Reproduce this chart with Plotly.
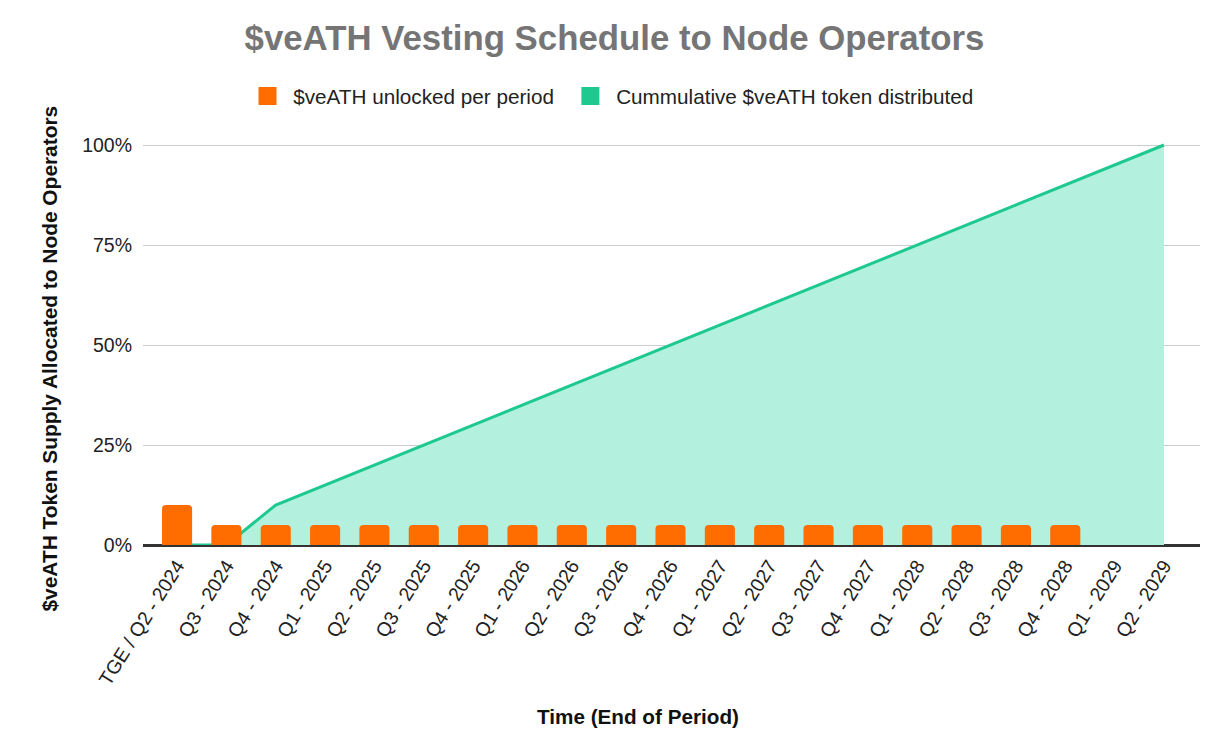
import plotly.graph_objects as go

categories = ["TGE / Q2 - 2024", "Q3 - 2024", "Q4 - 2024", "Q1 - 2025", "Q2 - 2025",
              "Q3 - 2025", "Q4 - 2025", "Q1 - 2026", "Q2 - 2026", "Q3 - 2026",
              "Q4 - 2026", "Q1 - 2027", "Q2 - 2027", "Q3 - 2027", "Q4 - 2027",
              "Q1 - 2028", "Q2 - 2028", "Q3 - 2028", "Q4 - 2028", "Q1 - 2029", "Q2 - 2029"]
unlocked = [0.10, 0.05, 0.05, 0.05, 0.05, 0.05, 0.05, 0.05, 0.05, 0.05,
            0.05, 0.05, 0.05, 0.05, 0.05, 0.05, 0.05, 0.05, 0.05, None, None]
cumulative = [0.00, 0.00, 0.10, 0.15, 0.20, 0.25, 0.30, 0.35, 0.40, 0.45,
              0.50, 0.55, 0.60, 0.65, 0.70, 0.75, 0.80, 0.85, 0.90, 0.95, 1.00]
y_ticks = [0, 0.25, 0.5, 0.75, 1.0]
y_tick_labels = ["0%", "25%", "50%", "75%", "100%"]
series_names = ["$veATH unlocked per period", "Cummulative $veATH token distributed"]

ORANGE = "#ff6d01"
GREEN = "#1ec98f"
GREEN_FILL = "#b3f0dd"
FONT = "Liberation Sans, Arial, sans-serif"
NB = "\u00a0"

W, H = 1223, 748           # page adds an 8px body margin
L, R, T, B = 135, 31, 132, 211
XR = [-0.69, 20.73]
YR = [0, 1.0125]

fig = go.Figure()
fig.add_trace(go.Scatter(x=categories, y=cumulative, mode="lines", fill="tozeroy",
                         line=dict(color=GREEN, width=3), fillcolor=GREEN_FILL,
                         showlegend=False, cliponaxis=False))
fig.add_trace(go.Bar(x=categories, y=unlocked, marker=dict(color=ORANGE, line=dict(width=0)),
                     width=0.61, showlegend=False, xaxis="x2", yaxis="y2"))
# legend entries
fig.add_trace(go.Scatter(x=[None], y=[None], mode="markers",
                         name=NB + series_names[0] + NB + NB,
                         marker=dict(color=ORANGE, symbol="square", size=19,
                                     line=dict(color=ORANGE, width=2))))
fig.add_trace(go.Scatter(x=[None], y=[None], mode="markers",
                         name=NB + series_names[1],
                         marker=dict(color=GREEN, symbol="square", size=19,
                                     line=dict(color=GREEN, width=2))))

pw = W - L - R
ph = H - T - B

fig.update_layout(
    width=W, height=H,
    margin=dict(l=L, r=R, t=T, b=B),
    paper_bgcolor="white", plot_bgcolor="white",
    font=dict(family=FONT, size=19.5, color="#222222"),
    barcornerradius=4,
    title=dict(text="<b>$veATH Vesting Schedule to Node Operators</b>",
               x=(614.5 - 8) / W, xref="container", xanchor="center",
               y=1 - 30 / H, yref="container", yanchor="middle",
               font=dict(size=34.8, color="#757575", family=FONT)),
    legend=dict(orientation="h", x=(613 - 8) / W, xref="container", xanchor="center",
                y=1 - 88 / H, yref="container", yanchor="middle",
                font=dict(size=20.7, color="#222222"), itemsizing="trace",
                traceorder="normal"),
    xaxis=dict(type="category", range=XR, tickangle=-58,
               showgrid=False, showline=True, linecolor="#333333", linewidth=1.5,
               layer="below traces",
               ticks="", tickfont=dict(size=19.5, color="#222222")),
    yaxis=dict(range=YR, tickvals=y_ticks, ticktext=y_tick_labels,
               showgrid=True, gridcolor="#cccccc", gridwidth=1,
               zeroline=True, zerolinecolor="#333333", zerolinewidth=1.5,
               ticks="", ticklabelstandoff=10, tickfont=dict(size=19.5, color="#222222")),
    xaxis2=dict(type="category", range=XR, overlaying="x", visible=False,
                categoryorder="array", categoryarray=categories),
    yaxis2=dict(range=YR, overlaying="y", visible=False),
    annotations=[
        dict(text="<b>Time (End of Period)</b>", x=(630 - L) / pw, y=(H - B - 708) / ph,
             xref="paper", yref="paper", showarrow=False, yanchor="middle",
             font=dict(size=20.7, color="#111111")),
        dict(text="<b>$veATH Token Supply Allocated to Node Operators</b>", textangle=-90,
             x=(41 - L) / pw, y=(H - B - 350.5) / ph, xref="paper", yref="paper",
             showarrow=False, xanchor="center", yanchor="middle",
             font=dict(size=20.9, color="#111111")),
    ],
)

fig.write_html("out.html")
